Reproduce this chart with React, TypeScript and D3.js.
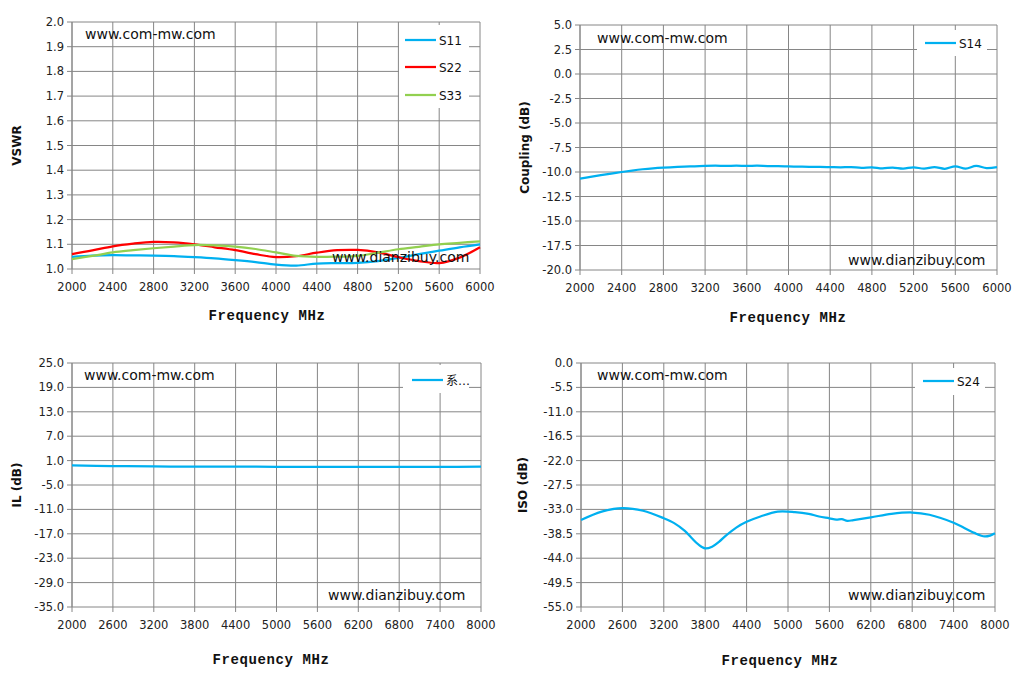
import * as d3 from "d3";

// ---- data ----
const vswrFreq = [2000, 2200, 2400, 2600, 2800, 3000, 3200, 3400, 3600, 3800, 4000, 4200, 4400, 4600, 4800, 5000, 5200, 5400, 5600, 5800, 6000];
const s11 = [1.049, 1.054, 1.056, 1.055, 1.054, 1.052, 1.048, 1.043, 1.036, 1.028, 1.018, 1.014, 1.022, 1.024, 1.025, 1.032, 1.045, 1.06, 1.074, 1.088, 1.1];
const s22 = [1.06, 1.075, 1.092, 1.103, 1.11, 1.108, 1.1, 1.088, 1.076, 1.06, 1.048, 1.052, 1.066, 1.076, 1.077, 1.067, 1.048, 1.032, 1.024, 1.046, 1.088];
const s33 = [1.04, 1.053, 1.067, 1.076, 1.084, 1.091, 1.097, 1.096, 1.091, 1.081, 1.067, 1.053, 1.049, 1.05, 1.053, 1.066, 1.08, 1.09, 1.1, 1.106, 1.112];

const couplingFreq = [2000, 2100, 2200, 2300, 2400, 2500, 2600, 2700, 2800, 2900, 3000, 3100, 3200, 3300, 3400, 3500, 3600, 3700, 3800, 3900, 4000, 4100, 4200, 4300, 4400, 4500, 4600, 4700, 4800, 4900, 5000, 5100, 5200, 5300, 5400, 5500, 5600, 5700, 5800, 5900, 6000];
const s14 = [-10.68, -10.5, -10.33, -10.17, -10.0, -9.85, -9.72, -9.62, -9.55, -9.5, -9.45, -9.42, -9.38, -9.36, -9.38, -9.35, -9.38, -9.36, -9.4, -9.41, -9.43, -9.45, -9.47, -9.48, -9.5, -9.52, -9.5, -9.58, -9.52, -9.63, -9.55, -9.65, -9.52, -9.66, -9.5, -9.67, -9.42, -9.65, -9.38, -9.6, -9.5];

const ilFreq = [2000, 2600, 3200, 3800, 4400, 5000, 5600, 6200, 6800, 7400, 8000];
const il = [-0.2, -0.35, -0.45, -0.5, -0.5, -0.52, -0.55, -0.55, -0.55, -0.55, -0.5];

const isoFreq = [2000, 2300, 2600, 2900, 3200, 3350, 3500, 3600, 3700, 3800, 3900, 4000, 4100, 4250, 4400, 4600, 4850, 5100, 5300, 5450, 5600, 5700, 5780, 5860, 5950, 6200, 6500, 6800, 7050, 7400, 7700, 7850, 7930, 8000];
const s24 = [-35.4, -33.5, -32.7, -33.3, -35.0, -36.1, -37.8, -39.4, -40.9, -41.8, -41.4, -40.3, -38.9, -37.1, -35.8, -34.6, -33.5, -33.6, -34.0, -34.6, -35.0, -35.3, -35.2, -35.6, -35.4, -34.8, -34.0, -33.7, -34.2, -36.0, -38.3, -39.1, -38.9, -38.4];

const xTicks6000 = [2000, 2400, 2800, 3200, 3600, 4000, 4400, 4800, 5200, 5600, 6000];
const xTicks8000 = [2000, 2600, 3200, 3800, 4400, 5000, 5600, 6200, 6800, 7400, 8000];
const vswrTicks = [1.0, 1.1, 1.2, 1.3, 1.4, 1.5, 1.6, 1.7, 1.8, 1.9, 2.0];
const couplingTicks = [5.0, 2.5, 0.0, -2.5, -5.0, -7.5, -10.0, -12.5, -15.0, -17.5, -20.0];
const ilTicks = [25.0, 19.0, 13.0, 7.0, 1.0, -5.0, -11.0, -17.0, -23.0, -29.0, -35.0];
const isoTicks = [0.0, -5.5, -11.0, -16.5, -22.0, -27.5, -33.0, -38.5, -44.0, -49.5, -55.0];

const BLUE = "#00B0F0";
const RED = "#FF0000";
const GREEN = "#92D050";
const GRID = "#868686";
const TICK_FONT = "'DejaVu Sans', sans-serif";

interface Series {
  name: string;
  color: string;
  freq: number[];
  values: number[];
}

interface PanelProps {
  box: [number, number, number, number]; // left, right, top, bottom
  xTicks: number[];
  yTicks: number[];
  yTitle: string;
  yTitleX: number;
  xTitleX: number;
  xTitleY: number;
  series: Series[];
  legend: { x: number; y: number; w: number; h: number; rows: number[]; lineX: number };
  wmTop: [number, number];
  wmBottom: [number, number];
}

function Panel(p: PanelProps) {
  const [left, right, top, bottom] = p.box;
  const x = d3
    .scaleLinear()
    .domain(d3.extent(p.xTicks) as [number, number])
    .range([left, right]);
  const y = d3
    .scaleLinear()
    .domain(d3.extent(p.yTicks) as [number, number])
    .range([bottom, top]);

  const line = d3
    .line<[number, number]>()
    .x((d) => x(d[0]))
    .y((d) => y(d[1]))
    .curve(d3.curveCatmullRom.alpha(0.5));

  return (
    <g>
      {/* grid */}
      {p.yTicks.map((t) => (
        <line key={"h" + t} x1={left - 5} x2={right} y1={y(t)} y2={y(t)} stroke={GRID} strokeWidth={1} />
      ))}
      {p.xTicks.map((t) => (
        <line key={"v" + t} x1={x(t)} x2={x(t)} y1={top} y2={bottom + 5} stroke={GRID} strokeWidth={1} />
      ))}
      <line x1={left} x2={left} y1={top} y2={bottom} stroke={GRID} />

      {/* tick labels */}
      {p.yTicks.map((t) => (
        <text key={"yl" + t} x={left - 8} y={y(t) + 4} textAnchor="end" fontFamily={TICK_FONT} fontSize={11.5} fill="#222">
          {t.toFixed(1)}
        </text>
      ))}
      {p.xTicks.map((t) => (
        <text key={"xl" + t} x={x(t)} y={bottom + 22} textAnchor="middle" fontFamily={TICK_FONT} fontSize={11.5} fill="#222">
          {t}
        </text>
      ))}

      {/* titles */}
      <text
        transform={`translate(${p.yTitleX},${(top + bottom) / 2}) rotate(-90)`}
        textAnchor="middle"
        fontFamily="'DejaVu Sans', sans-serif"
        fontWeight="bold"
        fontSize={12}
        fill="#111"
      >
        {p.yTitle}
      </text>
      <text
        x={p.xTitleX}
        y={p.xTitleY}
        textAnchor="middle"
        fontFamily="'Liberation Mono', monospace"
        fontWeight="bold"
        fontSize={14}
        letterSpacing={0.6}
        fill="#111"
      >
        Frequency MHz
      </text>

      {/* legend box */}
      <rect x={p.legend.x} y={p.legend.y} width={p.legend.w} height={p.legend.h} fill="#fff" />
      {p.series.map((s, i) => (
        <g key={"lg" + s.name}>
          <line
            x1={p.legend.lineX}
            x2={p.legend.lineX + 31}
            y1={p.legend.rows[i]}
            y2={p.legend.rows[i]}
            stroke={s.color}
            strokeWidth={2.25}
          />
          <text
            x={p.legend.lineX + 34}
            y={p.legend.rows[i] + 4.5}
            fontFamily="'DejaVu Sans', 'Noto Sans CJK SC', sans-serif"
            fontSize={12}
            fill="#111"
          >
            {s.name}
          </text>
        </g>
      ))}

      {/* series */}
      {p.series.map((s) => (
        <path
          key={"s" + s.name}
          d={line(s.freq.map((f, i) => [f, s.values[i]] as [number, number])) || ""}
          fill="none"
          stroke={s.color}
          strokeWidth={2.25}
          strokeLinejoin="round"
        />
      ))}

      {/* watermarks */}
      <text x={p.wmTop[0]} y={p.wmTop[1]} fontFamily="'DejaVu Sans', sans-serif" fontSize={14} fill="#111">
        www.com-mw.com
      </text>
      <text x={p.wmBottom[0]} y={p.wmBottom[1]} fontFamily="'DejaVu Sans', sans-serif" fontSize={14} fill="#111">
        www.dianzibuy.com
      </text>
    </g>
  );
}

export default function App() {
  return (
    <svg
      width={1024}
      height={687}
      style={{ position: "fixed", left: 0, top: 0, background: "#fff" }}
    >
      <rect width={1024} height={687} fill="#fff" />
      <Panel
        box={[72, 480, 22, 269]}
        xTicks={xTicks6000}
        yTicks={vswrTicks}
        yTitle="VSWR"
        yTitleX={21}
        xTitleX={267}
        xTitleY={320}
        series={[
          { name: "S11", color: BLUE, freq: vswrFreq, values: s11 },
          { name: "S22", color: RED, freq: vswrFreq, values: s22 },
          { name: "S33", color: GREEN, freq: vswrFreq, values: s33 },
        ]}
        legend={{ x: 399, y: 25, w: 70, h: 83, rows: [40, 67, 95], lineX: 405 }}
        wmTop={[85, 39]}
        wmBottom={[332, 262]}
      />
      <Panel
        box={[580, 997, 25, 270]}
        xTicks={xTicks6000}
        yTicks={couplingTicks}
        yTitle="Coupling (dB)"
        yTitleX={529}
        xTitleX={788}
        xTitleY={322}
        series={[{ name: "S14", color: BLUE, freq: couplingFreq, values: s14 }]}
        legend={{ x: 917, y: 30, w: 70, h: 26, rows: [43], lineX: 925 }}
        wmTop={[597, 43]}
        wmBottom={[848, 265]}
      />
      <Panel
        box={[72, 481, 363, 607]}
        xTicks={xTicks8000}
        yTicks={ilTicks}
        yTitle="IL (dB)"
        yTitleX={21}
        xTitleX={271}
        xTitleY={664}
        series={[{ name: "系…", color: BLUE, freq: ilFreq, values: il }]}
        legend={{ x: 403, y: 365, w: 66, h: 28, rows: [380], lineX: 412 }}
        wmTop={[84, 380]}
        wmBottom={[328, 600]}
      />
      <Panel
        box={[581, 995, 363, 607]}
        xTicks={xTicks8000}
        yTicks={isoTicks}
        yTitle="ISO (dB)"
        yTitleX={527}
        xTitleX={780}
        xTitleY={665}
        series={[{ name: "S24", color: BLUE, freq: isoFreq, values: s24 }]}
        legend={{ x: 915, y: 368, w: 70, h: 27, rows: [381], lineX: 923 }}
        wmTop={[597, 380]}
        wmBottom={[848, 600]}
      />
    </svg>
  );
}
